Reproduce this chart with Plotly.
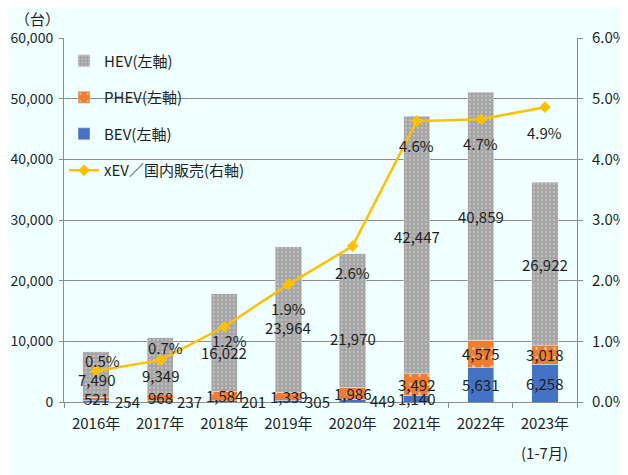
import plotly.graph_objects as go

# 国内販売台数（台）と xEV 比率（%）
years = ['2016年', '2017年', '2018年', '2019年', '2020年', '2021年', '2022年', '2023年']
bev = [254, 237, 201, 305, 449, 1140, 5631, 6258]
phev = [521, 968, 1584, 1339, 1986, 3492, 4575, 3018]
hev = [7490, 9349, 16022, 23964, 21970, 42447, 40859, 26922]
xev_share = [0.51, 0.69, 1.24, 1.94, 2.57, 4.63, 4.66, 4.86]

FONT = 'Noto Sans CJK JP'
TXT = '#1F1F1F'
GRID = '#8C8C8C'
BG = '#F0FFFF'

# label nudges in pixels (Excel labels were moved by hand)
hev_dy = [5, 9, 10, 8, 18, -9, 0, 0]
bev_dx = [31, 29, 29, 29, 30, 0, 0, 0]
share_dx = [6, 5, 5, 0, 0, 0, 0, 0]
share_dy = [-11, -13, 14, 24, 26, 24, 24, 25]

fig = go.Figure()

fig.add_trace(go.Bar(x=years, y=bev, name='BEV(左軸)', marker_color='#4472C4',
                     width=0.41, legendrank=3, legendgroup='c'))
fig.add_trace(go.Bar(x=years, y=phev, name='PHEV(左軸)', width=0.41, legendrank=2, legendgroup='b',
                     marker=dict(color='#ED7D31',
                                 pattern=dict(shape='.', fgcolor='white', bgcolor='#ED7D31',
                                              size=9, solidity=0.08))))
fig.add_trace(go.Bar(x=years, y=hev, name='HEV(左軸)', width=0.41, legendrank=1, legendgroup='a',
                     marker=dict(color='#A5A5A5',
                                 pattern=dict(shape='.', fgcolor='#D9D9D9', bgcolor='#A5A5A5',
                                              size=4, solidity=0.25))))
fig.add_trace(go.Scatter(x=years, y=xev_share, name='xEV／国内販売(右軸)', yaxis='y2',
                         mode='lines+markers', legendrank=4, legendgroup='d',
                         line=dict(color='#FFC000', width=2.5),
                         marker=dict(symbol='diamond', size=9, color='#FFC000')))

annos = []
lab_font = dict(family=FONT, size=15, color=TXT)
for i, yr in enumerate(years):
    # BEV
    annos.append(dict(x=yr, y=bev[i] / 2, xref='x', yref='y', text=f'{bev[i]:,}',
                      showarrow=False, xshift=bev_dx[i], font=lab_font))
    # PHEV
    annos.append(dict(x=yr, y=bev[i] + phev[i] / 2, xref='x', yref='y', text=f'{phev[i]:,}',
                      showarrow=False, font=lab_font))
    # HEV
    annos.append(dict(x=yr, y=bev[i] + phev[i] + hev[i] / 2, xref='x', yref='y',
                      text=f'{hev[i]:,}', showarrow=False, yshift=-hev_dy[i], font=lab_font))
    # share
    annos.append(dict(x=yr, y=xev_share[i], xref='x', yref='y2', text=f'{xev_share[i]:.1f}%',
                      showarrow=False, xshift=share_dx[i], yshift=-share_dy[i], font=lab_font))

annos.append(dict(x=0.0, y=1.0, xref='paper', yref='paper', text='（台）', showarrow=False,
                  xanchor='center', yanchor='middle', xshift=-27, yshift=20, font=lab_font))
annos.append(dict(x=years[-1], y=0, xref='x', yref='paper', text='(1-7月)', showarrow=False,
                  xanchor='center', yanchor='middle', yshift=-50, font=lab_font))

# the page body adds ~8px on the left/top, so margins are set a bit off
fig.update_layout(
    width=628, height=475,
    margin=dict(l=56, r=59, t=30, b=81),
    barmode='stack',
    paper_bgcolor=BG, plot_bgcolor=BG,
    font=dict(family=FONT, size=15, color=TXT),
    annotations=annos,
    showlegend=True,
    legend=dict(x=0.0, y=0.982, xanchor='left', yanchor='top', bgcolor='rgba(0,0,0,0)',
                tracegroupgap=14, font=dict(family=FONT, size=15, color=TXT)),
    xaxis=dict(type='category', showgrid=False, showline=True, linecolor=GRID, linewidth=1,
               ticks='outside', tickson='boundaries', ticklen=5, tickcolor=GRID,
               ticklabelstandoff=8, automargin=False,
               tickfont=dict(family=FONT, size=15, color=TXT)),
    yaxis=dict(range=[0, 60000], dtick=10000, tickformat=',', showgrid=True, gridcolor=GRID,
               gridwidth=1, showline=True, linecolor=GRID, ticks='outside', ticklen=4,
               tickcolor=GRID, ticklabelstandoff=3, zeroline=False, automargin=False,
               tickfont=dict(family=FONT, size=14, color=TXT)),
    yaxis2=dict(range=[0, 6], dtick=1, tickformat='.1f', ticksuffix='%', overlaying='y',
                side='right', showgrid=False, showline=True, linecolor=GRID, ticks='outside',
                ticklen=5, tickcolor=GRID, ticklabelstandoff=6, zeroline=False,
                automargin=False, tickfont=dict(family=FONT, size=15, color=TXT)),
)

fig.write_html("out.html")
